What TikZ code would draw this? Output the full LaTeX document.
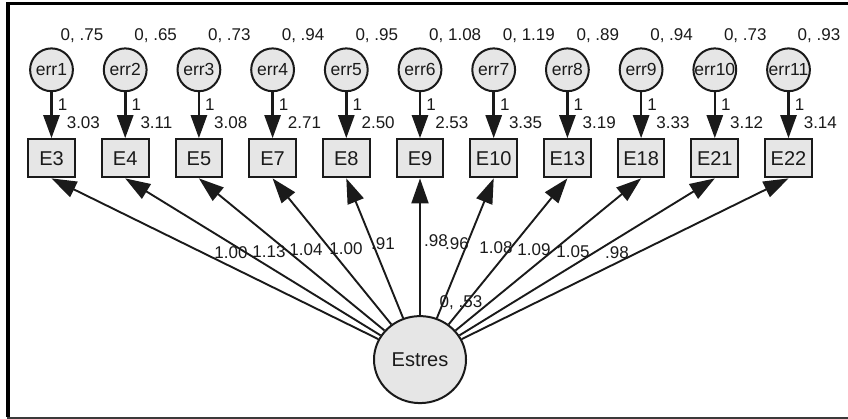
\documentclass[tikz,border=0pt]{standalone}
\usepackage{fontspec}
\setmainfont{Liberation Sans}
\usepackage{xcolor}
\definecolor{Ink}{HTML}{1A1A1A}
\definecolor{Shade}{HTML}{E6E6E6}
\definecolor{Rim}{HTML}{3A3A3A}
\usepackage{tikz}
\usetikzlibrary{arrows.meta,positioning,shapes.geometric}
\tikzset{
  indicator/.style={draw=Ink,fill=Shade,line width=2pt,minimum width=46.7pt,
    minimum height=38.2pt,inner sep=0pt,text=Ink,font=\fontsize{20}{20}\selectfont},
  residual/.style={circle,draw=Ink,fill=Shade,line width=2pt,minimum size=42.8pt,
    inner sep=0pt,text=Ink,font=\fontsize{17.5}{17.5}\selectfont},
  factor/.style={ellipse,draw=Ink,fill=Shade,line width=2pt,minimum width=92pt,
    minimum height=87pt,inner sep=0pt,text=Ink,font=\fontsize{20}{20}\selectfont},
  errarrow/.style={-{Triangle[length=23pt,width=16pt]},line width=2.6pt,draw=Ink},
  loading/.style={-{Triangle[length=25pt,width=17pt]},line width=1.9pt,draw=Ink},
  est/.style={font=\fontsize{17}{17}\selectfont,text=Ink,inner sep=0pt}
}

\begin{document}
\begin{tikzpicture}[x=1pt,y=-1pt]
\useasboundingbox (0,0) rectangle (848,419);
% frame
\draw[black,line width=3.4pt] (8,417) -- (8,3.3) -- (848,3.3);
\draw[Rim,line width=2pt] (7,417.8) -- (848,417.8);

% observed items
\node[indicator] (E3) at (51.5,158.3) {E3};
\node[indicator,right=25pt of E3] (E4) {E4};
\node[indicator,right=25pt of E4] (E5) {E5};
\node[indicator,right=25pt of E5] (E7) {E7};
\node[indicator,right=25pt of E7] (E8) {E8};
\node[indicator,right=25pt of E8] (E9) {E9};
\node[indicator,right=25pt of E9] (E10) {E10};
\node[indicator,right=25pt of E10] (E13) {E13};
\node[indicator,right=25pt of E13] (E18) {E18};
\node[indicator,right=25pt of E18] (E21) {E21};
\node[indicator,right=25pt of E21] (E22) {E22};

% error terms
\node[residual,above=46pt of E3] (err1) {err1};
\node[residual,above=46pt of E4] (err2) {err2};
\node[residual,above=46pt of E5] (err3) {err3};
\node[residual,above=46pt of E7] (err4) {err4};
\node[residual,above=46pt of E8] (err5) {err5};
\node[residual,above=46pt of E9] (err6) {err6};
\node[residual,above=46pt of E10] (err7) {err7};
\node[residual,above=46pt of E13] (err8) {err8};
\node[residual,above=46pt of E18] (err9) {err9};
\node[residual,above=46pt of E21] (err10) {err10};
\node[residual,above=46pt of E22] (err11) {err11};

% latent factor
\node[factor,below=136.7pt of E9] (estres) {Estres};

% variances
\node[est,above right=5pt and 9pt of err1.north] (v1) {0, .75};
\node[est,above right=5pt and 9pt of err2.north] (v2) {0, .65};
\node[est,above right=5pt and 9pt of err3.north] (v3) {0, .73};
\node[est,above right=5pt and 9pt of err4.north] (v4) {0, .94};
\node[est,above right=5pt and 9pt of err5.north] (v5) {0, .95};
\node[est,above right=5pt and 9pt of err6.north] (v6) {0, 1.08};
\node[est,above right=5pt and 9pt of err7.north] (v7) {0, 1.19};
\node[est,above right=5pt and 9pt of err8.north] (v8) {0, .89};
\node[est,above right=5pt and 9pt of err9.north] (v9) {0, .94};
\node[est,above right=5pt and 9pt of err10.north] (v10) {0, .73};
\node[est,above right=5pt and 9pt of err11.north] (v11) {0, .93};
\node[est] (vest) at (461,302.5) {0, .53};

% error paths with intercepts
\draw[errarrow] (err1) -- node[est,pos=.28,right=5pt]{1} node[est,pos=.67,right=14pt]{3.03} (E3);
\draw[errarrow] (err2) -- node[est,pos=.28,right=5pt]{1} node[est,pos=.67,right=14pt]{3.11} (E4);
\draw[errarrow] (err3) -- node[est,pos=.28,right=5pt]{1} node[est,pos=.67,right=14pt]{3.08} (E5);
\draw[errarrow] (err4) -- node[est,pos=.28,right=5pt]{1} node[est,pos=.67,right=14pt]{2.71} (E7);
\draw[errarrow] (err5) -- node[est,pos=.28,right=5pt]{1} node[est,pos=.67,right=14pt]{2.50} (E8);
\draw[errarrow] (err6) -- node[est,pos=.28,right=5pt]{1} node[est,pos=.67,right=14pt]{2.53} (E9);
\draw[errarrow] (err7) -- node[est,pos=.28,right=5pt]{1} node[est,pos=.67,right=14pt]{3.35} (E10);
\draw[errarrow] (err8) -- node[est,pos=.28,right=5pt]{1} node[est,pos=.67,right=14pt]{3.19} (E13);
\draw[errarrow] (err9) -- node[est,pos=.28,right=5pt]{1} node[est,pos=.67,right=14pt]{3.33} (E18);
\draw[errarrow] (err10) -- node[est,pos=.28,right=5pt]{1} node[est,pos=.67,right=14pt]{3.12} (E21);
\draw[errarrow] (err11) -- node[est,pos=.28,right=5pt]{1} node[est,pos=.67,right=14pt]{3.14} (E22);

% factor loadings
\draw[loading] (estres) -- (E3.south);
\draw[loading] (estres) -- (E4.south);
\draw[loading] (estres) -- (E5.south);
\draw[loading] (estres) -- (E7.south);
\draw[loading] (estres) -- (E8.south);
\draw[loading] (estres) -- (E9.south);
\draw[loading] (estres) -- (E10.south);
\draw[loading] (estres) -- (E13.south);
\draw[loading] (estres) -- (E18.south);
\draw[loading] (estres) -- (E21.south);
\draw[loading] (estres) -- (E22.south);
\node[est] (w3) at (231,253) {1.00};
\node[est] (w4) at (269,251.5) {1.13};
\node[est] (w5) at (306,250) {1.04};
\node[est] (w7) at (346,249) {1.00};
\node[est] (w8) at (383,244) {.91};
\node[est] (w9) at (436,240.5) {.98};
\node[est] (w10) at (457,243.5) {.96};
\node[est] (w13) at (496,248) {1.08};
\node[est] (w18) at (534,250) {1.09};
\node[est] (w21) at (573,251.5) {1.05};
\node[est] (w22) at (617,253) {.98};
\end{tikzpicture}
\end{document}
